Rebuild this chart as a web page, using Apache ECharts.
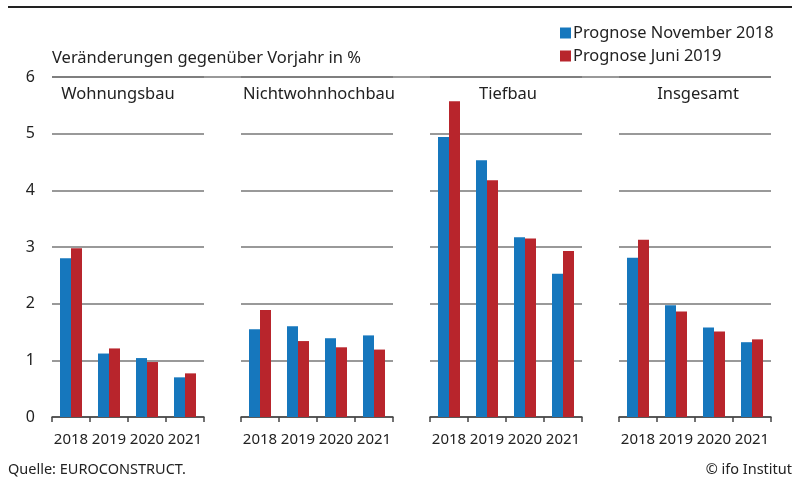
<!DOCTYPE html>
<html><head><meta charset="utf-8">
<script src="https://cdn.jsdelivr.net/npm/echarts@6/dist/echarts.min.js"></script>
<style>html,body{margin:0;padding:0;background:#fff}#c{width:794px;height:480px}</style>
</head><body><div id="c"></div>
<script>
const years = ['2018','2019','2020','2021'];
const panels = ['Wohnungsbau','Nichtwohnhochbau','Tiefbau','Insgesamt'];
const seriesNames = ['Prognose November 2018','Prognose Juni 2019'];
const nov2018 = [
  [2.80, 1.12, 1.04, 0.70],
  [1.55, 1.60, 1.39, 1.44],
  [4.94, 4.53, 3.17, 2.53],
  [2.81, 1.97, 1.58, 1.32]
];
const jun2019 = [
  [2.98, 1.21, 0.97, 0.77],
  [1.89, 1.34, 1.23, 1.19],
  [5.57, 4.18, 3.15, 2.93],
  [3.13, 1.86, 1.51, 1.37]
];
const yTicks = [0,1,2,3,4,5,6];

const FONT = '"Noto Sans"';
const colors = ['#1677bd', '#b8252c'];
const lefts = [52, 241, 430, 619];
const W = 152, TOP = 77, BOTTOM = 63;
const titleCenters = [118, 319, 508, 698];

const grid = [], xAxis = [], yAxis = [], series = [], graphic = [];
lefts.forEach((l, i) => {
  grid.push({left: l, width: W, top: TOP, bottom: BOTTOM});
  xAxis.push({type: 'category', gridIndex: i, data: years,
    axisLine: {lineStyle: {color: '#444', width: 1.5}},
    axisTick: {show: true, length: 5, lineStyle: {color: '#444', width: 1.5}},
    axisLabel: {color: '#222', fontFamily: FONT, fontSize: 15, margin: 15, interval: 0}
  });
  yAxis.push({type: 'value', gridIndex: i, min: 0, max: 6, interval: 1,
    axisLine: {show: false}, axisTick: {show: false},
    axisLabel: {show: i === 0, color: '#222', fontFamily: FONT, fontSize: 16, margin: 17,
      formatter: v => yTicks.includes(v) ? String(v) : ''},
    splitLine: {show: true, lineStyle: {color: '#777', width: 1.5}}
  });
  series.push({name: seriesNames[0], type: 'bar', xAxisIndex: i, yAxisIndex: i,
    data: nov2018[i], itemStyle: {color: colors[0]}, barWidth: 11, barGap: '0%'});
  series.push({name: seriesNames[1], type: 'bar', xAxisIndex: i, yAxisIndex: i,
    data: jun2019[i], itemStyle: {color: colors[1]}, barWidth: 11, barGap: '0%'});
  graphic.push({type: 'text', x: titleCenters[i], y: 94,
    style: {text: panels[i], fill: '#222', font: '16.5px ' + FONT, align: 'center', verticalAlign: 'middle'}});
});
// continuous top line at 6 across panels
grid.push({left: 52, width: 719, top: TOP, bottom: BOTTOM});
xAxis.push({type: 'value', gridIndex: 4, show: false});
yAxis.push({type: 'value', gridIndex: 4, min: 0, max: 6, interval: 6,
  axisLine: {show: false}, axisTick: {show: false}, axisLabel: {show: false},
  splitLine: {show: true, lineStyle: {color: ['transparent', '#777'], width: 1.5}}});

graphic.push(
  {type: 'line', shape: {x1: 8, y1: 7, x2: 792, y2: 7}, style: {stroke: '#222', lineWidth: 2}},
  {type: 'text', x: 52, y: 58, style: {text: 'Veränderungen gegenüber Vorjahr in %', fill: '#222', font: '16.5px ' + FONT, verticalAlign: 'middle'}},
  {type: 'text', x: 8, y: 470, style: {text: 'Quelle: EUROCONSTRUCT.', fill: '#222', font: '14.5px ' + FONT, verticalAlign: 'middle'}},
  {type: 'text', x: 792, y: 470, style: {text: '© ifo Institut', fill: '#222', font: '14.5px ' + FONT, align: 'right', verticalAlign: 'middle'}}
);

const chart = echarts.init(document.getElementById('c'), null, {renderer: 'canvas'});
chart.setOption({
  animation: false,
  legend: {orient: 'vertical', left: 555, top: 20, itemWidth: 11, itemHeight: 11, itemGap: 7,
    icon: 'rect', data: seriesNames,
    textStyle: {color: '#222', fontFamily: FONT, fontSize: 16.4, padding: [0,0,0,-3]}},
  grid, xAxis, yAxis, series, graphic
});
</script></body></html>
